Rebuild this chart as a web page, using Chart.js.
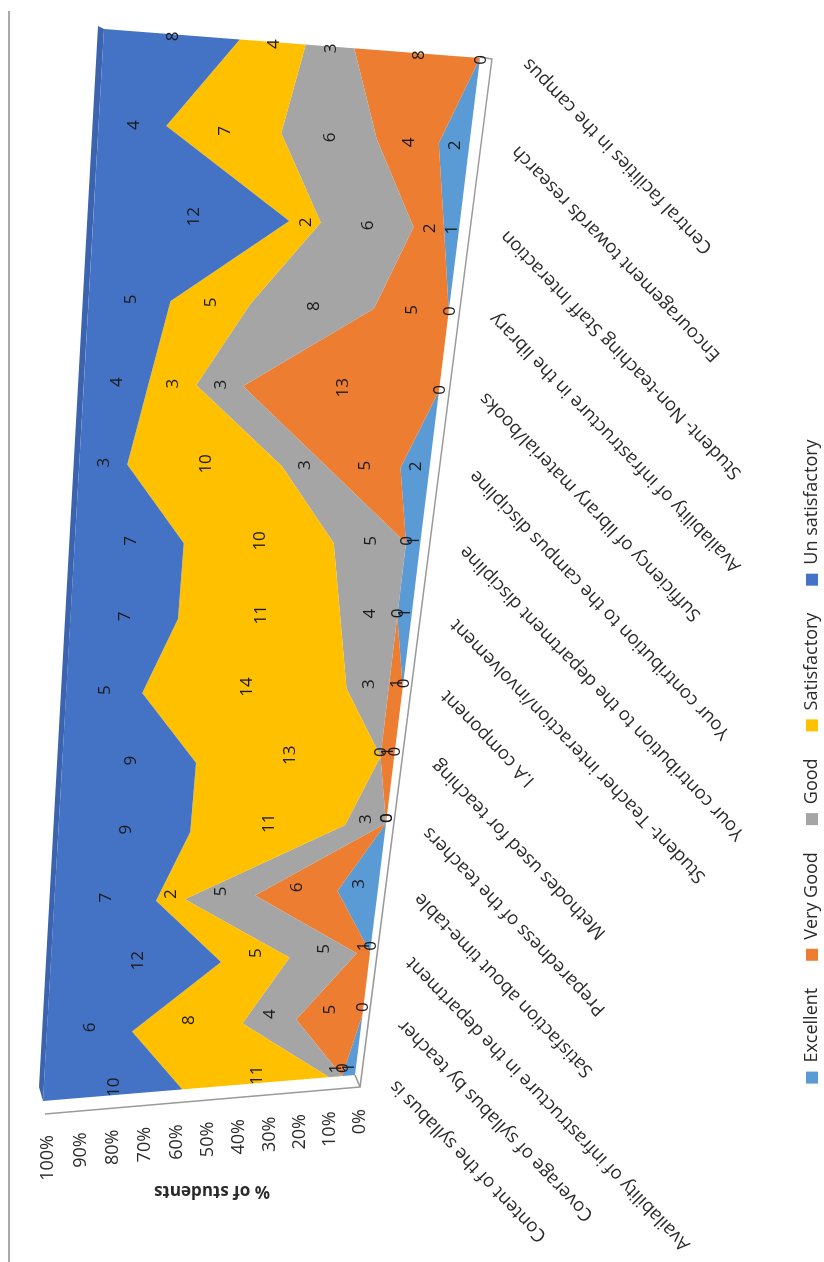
<!DOCTYPE html>
<html>
<head>
<meta charset="utf-8">
<script src="https://cdn.jsdelivr.net/npm/chart.js"></script>
<style>
  html, body { margin: 0; background: #fff; overflow: hidden; }
  #wrap { position: relative; width: 824px; height: 1262px; overflow: hidden; }
  /* el gráfico original está girado 90 grados */
  #chart { position: absolute; left: 0; top: 0; transform-origin: 0 0; transform: translate(0, 1262px) rotate(-90deg); }
</style>
</head>
<body>
<div id="wrap"><canvas id="chart" width="1262" height="824"></canvas></div>
<script>
const categories = [
  'Content of the syllabus is',
  'Coverage of syllabus by teacher',
  'Availability of infrastructure in the department',
  'Satisfaction about time-table',
  'Preparedness of the teachers',
  'Methodes used for teaching',
  'I.A component',
  'Student- Teacher interaction/involvement',
  'Your contribution to the department discipline',
  'Your contribution to the campus discipline',
  'Sufficiency of library material/books',
  'Availability of infrastructure in the library',
  'Student- Non-teaching Staff Interaction',
  'Encouragement towards research',
  'Central facilities in the campus'
];
const excellent =      [1, 0, 0, 3, 0, 0, 0, 1, 1, 2, 0, 0, 1, 2, 0];
const veryGood =       [0, 5, 1, 6, 0, 1, 1, 0, 0, 5, 13, 5, 2, 4, 8];
const good =           [1, 4, 5, 5, 3, 0, 3, 4, 5, 3, 3, 8, 6, 6, 3];
const satisfactory =   [11, 8, 5, 2, 11, 13, 14, 11, 10, 10, 3, 5, 2, 7, 4];
const unSatisfactory = [10, 6, 12, 7, 9, 9, 5, 7, 7, 3, 4, 5, 12, 4, 8];
const totalStudents = 23;

const textColor = '#2b2b2b';
const labelFont = '"Open Sans", sans-serif';

// page position -> canvas position (canvas is rotated)
const pg = (px, py) => [1262 - py, px];

// front face of the 3D plot on the page
const face = [pg(43, 1101), pg(104, 29), pg(480, 58), pg(355, 1075)];

function squareToQuad(q) {
  const [[x0, y0], [x1, y1], [x2, y2], [x3, y3]] = q;
  const dx1 = x1 - x2, dx2 = x3 - x2, sx = x0 - x1 + x2 - x3;
  const dy1 = y1 - y2, dy2 = y3 - y2, sy = y0 - y1 + y2 - y3;
  const den = dx1 * dy2 - dx2 * dy1;
  const g = (sx * dy2 - dx2 * sy) / den;
  const h = (dx1 * sy - sx * dy1) / den;
  return { a: x1 - x0 + g * x1, b: x3 - x0 + h * x3, c: x0, d: y1 - y0 + g * y1, e: y3 - y0 + h * y3, f: y0, g, h };
}
const H = squareToQuad(face);

function warp(chart, x, y) {
  const ca = chart.chartArea;
  const u = (x - ca.left) / (ca.right - ca.left);
  const v = (y - ca.top) / (ca.bottom - ca.top);
  const w = H.g * u + H.h * v + 1;
  return [(H.a * u + H.b * v + H.c) / w, (H.d * u + H.e * v + H.f) / w];
}

function polyline(ctx, pts, close) {
  ctx.beginPath();
  pts.forEach((p, i) => (i ? ctx.lineTo(p[0], p[1]) : ctx.moveTo(p[0], p[1])));
  if (close) ctx.closePath();
}

const perspective = {
  id: 'perspective',
  afterLayout(chart) {
    // leyenda desplazada como en el original
    chart.legend.left -= 149;
    chart.legend.right -= 149;
    chart.legend.top += 7;
    chart.legend.bottom += 7;
  },
  beforeDraw(chart) {
    const { ctx, scales } = chart;
    // marco izquierdo
    ctx.save();
    ctx.strokeStyle = '#aaaaaa';
    ctx.lineWidth = 2;
    polyline(ctx, [pg(9, 11), pg(9, 1262)]);
    ctx.stroke();
    ctx.restore();

    const last = categories.length - 1;
    scales.x.getLabelItems().forEach((item, i) => {
      const t = i / last;
      const [tx, ty] = warp(chart, scales.x.getPixelForTick(i), chart.chartArea.bottom);
      item.options.translation = [tx - 16 + 5 * t, ty + 30 + 8 * t];
      item.options.textBaseline = 'middle';
      item.options.textOffset = 0;
    });
    scales.y.getLabelItems().forEach((item, i) => {
      const [tx, ty] = warp(chart, chart.chartArea.left, scales.y.getPixelForTick(i));
      item.options.translation = [tx - 34, ty + 5];
      item.options.textOffset = 0;
    });
  },
  beforeDatasetsDraw(chart) {
    const { ctx, scales } = chart;
    ctx.save();

    // suelo y pared lateral
    ctx.strokeStyle = '#9a9a9a';
    ctx.lineWidth = 1.5;
    polyline(ctx, [pg(45, 1114), pg(360, 1087), pg(492, 59), pg(480, 57)]);
    ctx.stroke();
    polyline(ctx, [pg(360, 1087), pg(355, 1075)]);
    ctx.stroke();
    ctx.fillStyle = '#3c63ad';
    polyline(ctx, [pg(43, 1101), pg(39, 1087), pg(98, 26), pg(104, 29)], true);
    ctx.fill();

    // areas apiladas
    let below = null;
    chart.data.datasets.forEach((ds, d) => {
      const top = chart.getDatasetMeta(d).data.map(p => warp(chart, p.x, p.y));
      const base = below || categories.map((c, i) =>
        warp(chart, scales.x.getPixelForValue(i), scales.y.getPixelForValue(0)));
      ctx.fillStyle = ds.backgroundColor;
      polyline(ctx, top.concat(base.slice().reverse()), true);
      ctx.fill();
      below = top;
    });
    ctx.restore();
  },
  afterDatasetsDraw(chart) {
    const { ctx, scales } = chart;
    const last = categories.length - 1;
    ctx.save();
    ctx.fillStyle = '#1a1a1a';
    ctx.font = '17px ' + labelFont;
    ctx.textAlign = 'center';
    ctx.textBaseline = 'middle';
    let run = categories.map(() => 0);
    chart.data.datasets.forEach(ds => {
      ds.data.forEach((v, i) => {
        const mid = run[i] + v / 2;
        const [x, y] = warp(chart, scales.x.getPixelForValue(i), scales.y.getPixelForValue(mid));
        ctx.fillText(String(v), x + 8 - 10 * i / last, y + 1);
        run[i] += v;
      });
    });
    ctx.restore();
  }
};

function series(label, data, color) {
  return { label, data, backgroundColor: color, borderColor: color, borderWidth: 0, pointRadius: 0, fill: false };
}

new Chart(document.getElementById('chart'), {
  type: 'line',
  data: {
    labels: categories,
    datasets: [
      series('Excellent', excellent, '#5B9BD5'),
      series('Very Good', veryGood, '#ED7D31'),
      series('Good', good, '#A5A5A5'),
      series('Satisfactory', satisfactory, '#FFC000'),
      series('Un satisfactory', unSatisfactory, '#4472C4')
    ]
  },
  plugins: [perspective],
  options: {
    responsive: false,
    animation: false,
    layout: { padding: { left: 57, top: 40, right: 20, bottom: 0 } },
    plugins: {
      legend: {
        position: 'bottom',
        labels: { boxWidth: 12, boxHeight: 12, padding: 27, color: textColor, font: { family: labelFont, size: 18 } }
      },
      tooltip: { enabled: false }
    },
    scales: {
      x: {
        offset: false,
        grid: { display: false },
        border: { display: false },
        afterFit(axis) { axis.height = 385; },
        ticks: {
          autoSkip: false, minRotation: 44, maxRotation: 44,
          color: textColor, font: { family: labelFont, size: 18.5 }
        }
      },
      y: {
        stacked: true,
        min: 0,
        max: totalStudents,
        grid: { display: false },
        border: { display: false },
        afterFit(axis) { axis.width = 110; },
        title: { display: true, text: '% of students', color: textColor, font: { family: labelFont, size: 17, weight: 'bold' } },
        ticks: {
          stepSize: totalStudents / 10,
          color: textColor,
          font: { family: labelFont, size: 18 },
          callback: v => Math.round(v / totalStudents * 100) + '%'
        }
      }
    }
  }
});
</script>
</body>
</html>
